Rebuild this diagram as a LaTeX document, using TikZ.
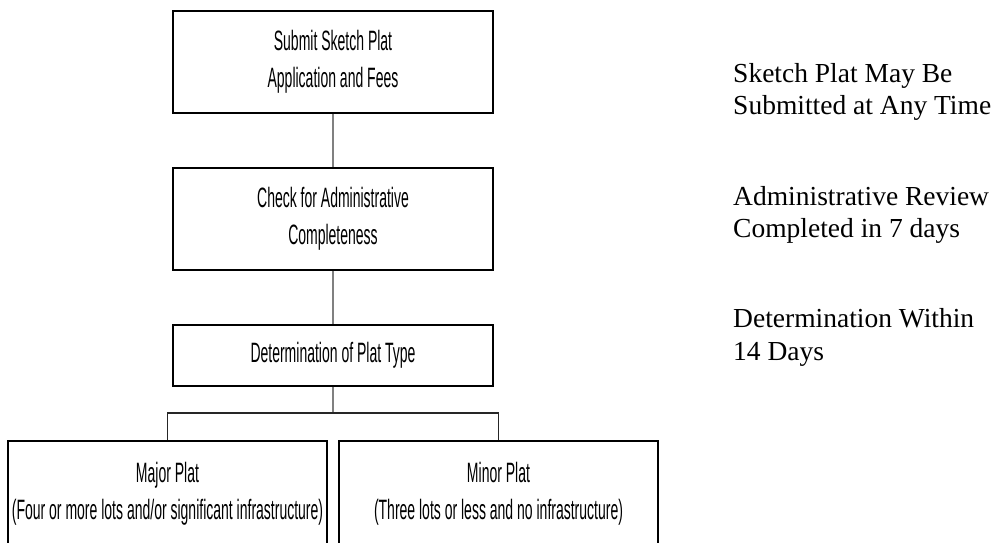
\documentclass[tikz,border=0pt]{standalone}
\usepackage{fontspec}
\setmainfont{Liberation Serif}
\newfontfamily\boxfont[FakeStretch=0.5]{Liberation Sans}
\begin{document}
\begin{tikzpicture}[x=1pt,y=-1pt,
  box/.style={draw=black,line width=1.8pt,fill=white,inner sep=0pt,
    align=center,font=\boxfont\fontsize{28}{37}\selectfont},
  conn/.style={draw=black!50,line width=1.5pt},
  bar/.style={draw=black!85,line width=1.5pt},
  note/.style={anchor=base west,inner sep=0pt,align=left,
    font=\fontsize{27.5}{32.5}\selectfont}]
\useasboundingbox (0,0) rectangle (998,542);
\clip (0,0) rectangle (998,542);
\node[box,minimum width=320pt,minimum height=102pt] (b1) at (333,62)
  {Submit Sketch Plat\\Application and Fees};
\node[box,minimum width=320pt,minimum height=102pt] (b2) at (333,219)
  {Check for Administrative\\Completeness};
\node[box,minimum width=320pt,minimum height=61pt] (b3) at (333,355.5)
  {Determination of Plat Type};
\node[box,minimum width=319pt,minimum height=105pt] (b4) at (167.5,493.5)
  {Major Plat\\(Four or more lots and/or significant infrastructure)};
\node[box,minimum width=319pt,minimum height=105pt] (b5) at (498.5,493.5)
  {Minor Plat\\(Three lots or less and no infrastructure)};
\coordinate (j) at (333,413);
\draw[conn] (b1) -- (b2);
\draw[conn] (b2) -- (b3);
\draw[conn] (b3) -- (j);
\draw[bar] (b4.north) |- (j) -| (b5.north);
\node[note] (n1) at (733,114.5) {Sketch Plat May Be\\Submitted at Any Time};
\node[note] (n2) at (733,237.5) {Administrative Review\\Completed in 7 days};
\node[note] (n3) at (733,360) {Determination Within\\14 Days};
\end{tikzpicture}
\end{document}
